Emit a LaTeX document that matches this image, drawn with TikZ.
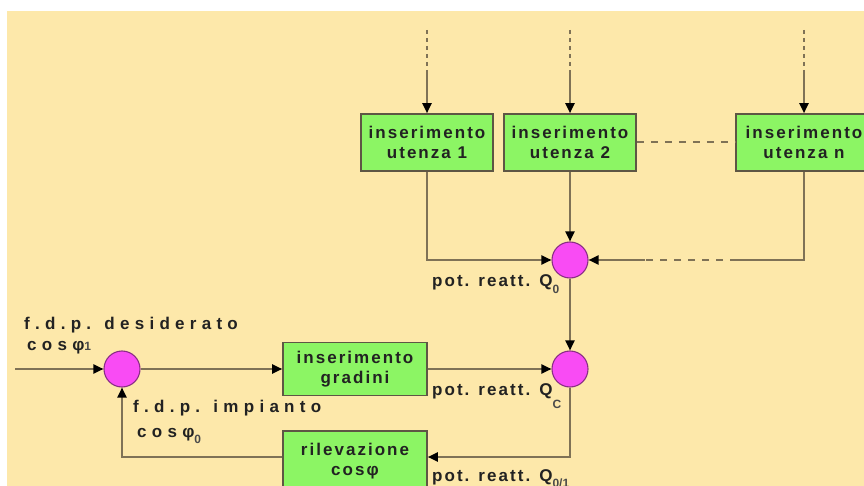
\documentclass[tikz,border=0pt]{standalone}
\usepackage{fontspec}
\setmainfont{Liberation Sans}
\newfontfamily\bxf[LetterSpace=12]{Liberation Sans}
\newfontfamily\wxf[LetterSpace=31]{Liberation Sans}
\newfontfamily\subf{Liberation Sans}
\usetikzlibrary{arrows.meta}
\definecolor{peach}{HTML}{FDE8AA}
\definecolor{boxgreen}{HTML}{8CF564}
\definecolor{boxline}{HTML}{5E5644}
\definecolor{wire}{HTML}{7F7256}
\definecolor{magentafill}{HTML}{F94BF4}
\definecolor{ringline}{HTML}{8A2E86}
\definecolor{txt}{HTML}{222222}
\definecolor{subtxt}{HTML}{4A4A4A}
\newcommand{\sbs}[2][7pt]{\raisebox{-#1}{\subf\fontsize{12}{12}\selectfont\textcolor{subtxt}{#2}}}
\begin{document}
\begin{tikzpicture}[x=1pt,y=-1pt,
 stepbox/.style={draw=boxline, fill=boxgreen, line width=1.6pt, minimum width=132pt, minimum height=57pt, inner sep=0pt, align=center, font=\bxf\bfseries\fontsize{17}{20}\selectfont, text=txt},
 sumnode/.style={circle, draw=ringline, fill=magentafill, line width=1.1pt, minimum size=36pt, inner sep=0pt},
 wireline/.style={draw=wire, line width=2pt},
 flow/.style={wireline, -{Triangle[length=10pt,width=9pt,black]}},
 dashwire/.style={wireline, dash pattern=on 7pt off 7pt},
 toplead/.style={wireline, dash pattern=on 4pt off 4pt},
 lbl/.style={font=\bxf\bfseries\fontsize{17}{18}\selectfont, text=txt, inner sep=0pt, anchor=base west},
 biglbl/.style={font=\wxf\bfseries\fontsize{17}{18}\selectfont, text=txt, inner sep=0pt, anchor=base west},
]
\useasboundingbox (0,0) rectangle (864,486);
\clip (0,0) rectangle (864,486);
\fill[white] (0,0) rectangle (864,486);
\fill[peach] (7,11) rectangle (864,486);

\node[stepbox] (b1) at (427,142.5) {inserimento\\utenza 1};
\node[stepbox] (b2) at (570,142.5) {inserimento\\utenza 2};
\node[stepbox, minimum width=136pt] (bn) at (804,142.5) {inserimento\\utenza n};
\node[sumnode] (s1) at (570,260) {};
\node[sumnode] (s2) at (570,369) {};
\node[sumnode] (s0) at (122,369) {};
\node[stepbox, minimum width=144pt, minimum height=53pt] (g) at (355,369) {inserimento\\gradini};
\node[stepbox, minimum width=144pt, minimum height=60pt] (r) at (355,461) {rilevazione\\cosφ};

\coordinate (t1) at (427,30); \coordinate (t1m) at (427,73);
\coordinate (t2) at (570,30); \coordinate (t2m) at (570,73);
\coordinate (tn) at (804,30); \coordinate (tnm) at (804,73);
\draw[toplead] (t1) -- (t1m); \draw[flow] (t1m) -- (b1.north);
\draw[toplead] (t2) -- (t2m); \draw[flow] (t2m) -- (b2.north);
\draw[toplead] (tn) -- (tnm); \draw[flow] (tnm) -- (bn.north);

\draw[dashwire] (b2.east) -- (bn.west);

\draw[flow] (b1.south) |- (s1.west);
\draw[flow] (b2.south) -- (s1.north);
\coordinate (h1) at (737,260); \coordinate (h2) at (645,260);
\draw[wireline] (bn.south) |- (h1);
\draw[dashwire] (h1) -- (h2);
\draw[flow] (h2) -- (s1.east);
\draw[flow] (s1.south) -- (s2.north);
\coordinate (in) at (15,369);
\draw[flow] (in) -- (s0.west);
\draw[flow] (s0.east) -- (g.west);
\draw[flow] (g.east) -- (s2.west);
\draw[flow] (s2.south) |- ([yshift=4pt]r.east);
\draw[flow] ([yshift=4pt]r.west) -| (s0.south);

\node[lbl] (q0) at (432,286) {pot. reatt. Q\sbs{0}};
\node[lbl] (qc) at (432,395) {pot. reatt. Q\sbs[13pt]{C}};
\node[lbl] (q01) at (432,481) {pot. reatt. Q\sbs[6pt]{0/1}};
\node[biglbl] (d1) at (24,329) {f.d.p. desiderato};
\node[biglbl] (d2) at (27,350) {cosφ\sbs[0pt]{1}};
\node[biglbl] (i1) at (133,412) {f.d.p. impianto};
\node[biglbl] (i2) at (137,437) {cosφ\sbs[6pt]{0}};
\end{tikzpicture}
\end{document}
